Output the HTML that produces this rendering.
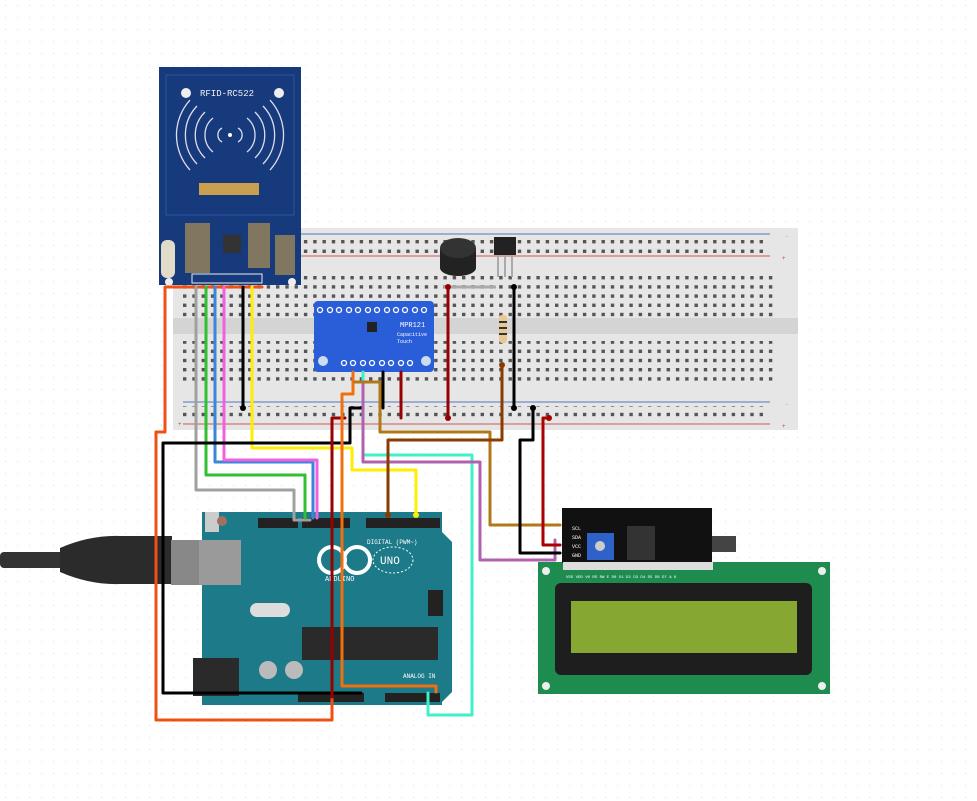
<!DOCTYPE html>
<html><head><meta charset="utf-8"><style>
html,body{margin:0;padding:0;background:#fff;}
svg{display:block;}
text{font-family:"Liberation Mono",monospace;}
</style></head><body>
<svg width="977" height="801" viewBox="0 0 977 801" xmlns="http://www.w3.org/2000/svg">
<defs>
<pattern id="grid" width="12" height="12" patternUnits="userSpaceOnUse"><rect x="5" y="5" width="1" height="1" fill="#ddd"/></pattern>
<pattern id="holes" x="183" y="0" width="9.3" height="9.2" patternUnits="userSpaceOnUse"><rect x="0" y="0" width="3.4" height="3.4" fill="#555"/></pattern>
<pattern id="rail" x="183" y="0" width="46.5" height="9.6" patternUnits="userSpaceOnUse"><rect x="9.3" y="0" width="3.4" height="3.4" fill="#555"/><rect x="18.6" y="0" width="3.4" height="3.4" fill="#555"/><rect x="27.9" y="0" width="3.4" height="3.4" fill="#555"/><rect x="37.2" y="0" width="3.4" height="3.4" fill="#555"/><rect x="0" y="0" width="3.4" height="3.4" fill="#555"/></pattern>
</defs>
<rect width="977" height="801" fill="url(#grid)"/>

<!-- Breadboard -->
<rect x="173" y="228" width="625" height="202" fill="#e6e6e6"/>
<rect x="173" y="318" width="625" height="16" fill="#d4d4d4"/>
<line x1="183" y1="234" x2="770" y2="234" stroke="#5577bb" stroke-width="1"/>
<line x1="183" y1="256" x2="770" y2="256" stroke="#cc5555" stroke-width="1"/>
<line x1="183" y1="402" x2="770" y2="402" stroke="#5577bb" stroke-width="1"/>
<line x1="183" y1="424" x2="770" y2="424" stroke="#cc5555" stroke-width="1"/>
<rect x="183" y="238" width="585" height="15" fill="url(#rail)"/>
<rect x="183" y="406" width="585" height="15" fill="url(#rail)"/>
<rect x="183" y="275" width="590" height="44" fill="url(#holes)"/>
<rect x="183" y="341" width="590" height="44" fill="url(#holes)"/>
<g font-size="6" fill="#999">
<text x="785" y="238">-</text><text x="782" y="260" fill="#c44">+</text>
<text x="785" y="406">-</text><text x="782" y="428" fill="#c44">+</text>
<text x="178" y="426" fill="#c44">+</text>
</g>

<!-- RFID -->
<rect x="159" y="67" width="142" height="218" fill="#163a7c"/>
<rect x="166" y="75" width="128" height="140" fill="none" stroke="#2c57a0" stroke-width="1"/>
<circle cx="186" cy="93" r="5" fill="#eee"/><circle cx="279" cy="93" r="5" fill="#eee"/>
<text x="200" y="96" font-size="9" fill="#eee">RFID-RC522</text>
<g fill="none" stroke="#dde" stroke-width="1.3">
<path d="M213 118 a22 22 0 0 0 0 34"/><path d="M205 112 a32 32 0 0 0 0 46"/><path d="M197 106 a42 42 0 0 0 0 58"/><path d="M190 100 a52 52 0 0 0 0 70"/>
<path d="M247 118 a22 22 0 0 1 0 34"/><path d="M255 112 a32 32 0 0 1 0 46"/><path d="M263 106 a42 42 0 0 1 0 58"/><path d="M270 100 a52 52 0 0 1 0 70"/>
<path d="M222 128 a8 8 0 0 0 0 14"/><path d="M238 128 a8 8 0 0 1 0 14"/>
</g>
<circle cx="230" cy="135" r="2" fill="#fff"/>
<rect x="199" y="183" width="60" height="12" fill="#c9a050"/>
<rect x="223" y="235" width="18" height="18" fill="#333"/>
<rect x="161" y="240" width="14" height="38" rx="6" fill="#e0dcc8"/>
<rect x="185" y="223" width="25" height="50" fill="#c9a050" opacity=".6"/>
<rect x="248" y="223" width="22" height="45" fill="#c9a050" opacity=".6"/>
<rect x="275" y="235" width="20" height="40" fill="#c9a050" opacity=".6"/>
<rect x="192" y="274" width="70" height="9" fill="none" stroke="#eee" stroke-width="1"/>
<circle cx="169" cy="282" r="4" fill="#eee"/><circle cx="292" cy="282" r="4" fill="#eee"/>

<!-- Buzzer, transistor, resistor -->
<ellipse cx="458" cy="268" rx="18" ry="8" fill="#222"/>
<rect x="440" y="248" width="36" height="20" fill="#222"/>
<ellipse cx="458" cy="248" rx="18" ry="10" fill="#333"/>
<line x1="444" y1="287" x2="496" y2="287" stroke="#aaa" stroke-width="3"/>
<path d="M494 237 h22 v18 h-22z" fill="#222"/>
<path d="M498 255 v22 M505 255 v22 M512 255 v22" stroke="#aaa" stroke-width="2"/>
<rect x="499" y="315" width="8" height="28" rx="3" fill="#e8c890"/>
<path d="M499 322h8M499 328h8M499 334h8" stroke="#333" stroke-width="2"/>

<!-- MPR121 -->
<rect x="314" y="301" width="120" height="71" rx="4" fill="#2a5ed8"/>
<g fill="none" stroke="#fff" stroke-width="1.3">
<circle cx="320" cy="310" r="2.5"/><circle cx="330" cy="310" r="2.5"/><circle cx="339" cy="310" r="2.5"/><circle cx="349" cy="310" r="2.5"/><circle cx="358" cy="310" r="2.5"/><circle cx="368" cy="310" r="2.5"/><circle cx="377" cy="310" r="2.5"/><circle cx="387" cy="310" r="2.5"/><circle cx="396" cy="310" r="2.5"/><circle cx="405" cy="310" r="2.5"/><circle cx="415" cy="310" r="2.5"/><circle cx="424" cy="310" r="2.5"/>
<circle cx="344" cy="363" r="2.5"/><circle cx="353" cy="363" r="2.5"/><circle cx="363" cy="363" r="2.5"/><circle cx="372" cy="363" r="2.5"/><circle cx="382" cy="363" r="2.5"/><circle cx="391" cy="363" r="2.5"/><circle cx="401" cy="363" r="2.5"/><circle cx="410" cy="363" r="2.5"/>
</g>
<circle cx="323" cy="361" r="5" fill="#cde"/><circle cx="426" cy="361" r="5" fill="#cde"/>
<rect x="367" y="322" width="10" height="10" fill="#222"/>
<text x="400" y="327" font-size="7" fill="#fff">MPR121</text>
<text x="397" y="336" font-size="5" fill="#fff">Capacitive</text>
<text x="397" y="343" font-size="5" fill="#fff">Touch</text>

<!-- Arduino -->
<path d="M202 512 h240 v20 l10 10 v150 l-10 10 v3 h-240z" fill="#1d7a88"/>
<rect x="258" y="518" width="40" height="10" fill="#222"/>
<rect x="302" y="518" width="48" height="10" fill="#222"/>
<rect x="366" y="518" width="74" height="10" fill="#222"/>
<rect x="205" y="512" width="14" height="20" fill="#ccc"/>
<circle cx="222" cy="521" r="5" fill="#a07060"/>
<rect x="302" y="627" width="136" height="33" fill="#2a2a2a"/>
<rect x="298" y="693" width="66" height="9" fill="#222"/>
<rect x="385" y="693" width="55" height="9" fill="#222"/>
<rect x="193" y="658" width="46" height="38" fill="#2a2a2a"/>
<circle cx="268" cy="670" r="9" fill="#bbb"/><circle cx="294" cy="670" r="9" fill="#bbb"/>
<rect x="250" y="603" width="40" height="14" rx="7" fill="#ddd"/>
<circle cx="332" cy="560" r="13" fill="none" stroke="#fff" stroke-width="4"/>
<circle cx="357" cy="560" r="13" fill="none" stroke="#fff" stroke-width="4"/>
<ellipse cx="393" cy="560" rx="20" ry="13" fill="none" stroke="#fff" stroke-width="1" stroke-dasharray="2 2"/>
<text x="380" y="564" font-size="11" fill="#fff">UNO</text>
<text x="367" y="544" font-size="6" fill="#fff">DIGITAL (PWM~)</text>
<text x="403" y="678" font-size="6" fill="#fff">ANALOG IN</text>
<text x="325" y="581" font-size="7" fill="#fff">ARDUINO</text>
<rect x="428" y="590" width="15" height="26" fill="#222"/>
<!-- USB cable -->
<rect x="0" y="552" width="70" height="16" rx="4" fill="#333"/>
<path d="M60 548 Q90 535 120 536 h52 v48 h-52 Q90 585 60 572z" fill="#2b2b2b"/>
<rect x="171" y="540" width="70" height="45" fill="#9a9a9a"/>
<rect x="171" y="540" width="28" height="45" fill="#888"/>

<!-- I2C + LCD -->
<rect x="538" y="562" width="292" height="132" fill="#1e8c4e"/>
<circle cx="546" cy="571" r="4" fill="#eee"/><circle cx="822" cy="571" r="4" fill="#eee"/>
<circle cx="546" cy="686" r="4" fill="#eee"/><circle cx="822" cy="686" r="4" fill="#eee"/>
<rect x="555" y="583" width="257" height="92" rx="6" fill="#1e1e1e"/>
<rect x="571" y="601" width="226" height="52" fill="#86a832"/>
<rect x="562" y="508" width="150" height="55" fill="#111"/>
<rect x="587" y="533" width="27" height="27" fill="#2f62c8"/>
<circle cx="600" cy="546" r="5" fill="#ccc"/>
<rect x="627" y="526" width="28" height="34" fill="#333"/>
<rect x="712" y="536" width="24" height="16" fill="#444"/>
<g fill="#ddd"><rect x="563" y="562" width="150" height="8"/></g>
<text x="566" y="578" font-size="4" fill="#fff">VSS VDD V0 RS RW E D0 D1 D2 D3 D4 D5 D6 D7 A K</text>
<g font-size="5" fill="#fff"><text x="572" y="530">SCL</text><text x="572" y="539">SDA</text><text x="572" y="548">VCC</text><text x="572" y="557">GND</text></g>

<!-- Wires -->
<g fill="none" stroke-width="3" stroke-linejoin="round" stroke-linecap="round">
<path d="M262 287 H165 V432 H156 V720 H332 V697" stroke="#f05014"/>
<path d="M196 287 V490 H294 V520 H310" stroke="#a0a0a0"/>
<path d="M206 287 V475 H305 V518" stroke="#30c030"/>
<path d="M215 287 V462 H313 V518" stroke="#3a86d8"/>
<path d="M224 287 V460 H317 V518" stroke="#f060e0"/>
<path d="M243 287 V408" stroke="#000"/>
<path d="M252 287 V448 H352 V470 H416 V515" stroke="#ffee00"/>
<path d="M362 408 H350 V443 H163 V693 H361" stroke="#000"/>
<path d="M345 418 H332 V697" stroke="#900"/>
<path d="M353 372 V394 H342 V686 H436 V692" stroke="#f07010"/>
<path d="M363 372 V455 H472 V715 H428 V693" stroke="#40f0c8"/>
<path d="M363 382 V462 H480 V560 H555 V540" stroke="#b060b0"/>
<path d="M355 382 H380 V432 H490 V525 H560" stroke="#b07818"/>
<path d="M502 365 V440 H388 V515" stroke="#8a3c00"/>
<path d="M383 372 V408" stroke="#000"/>
<path d="M401 372 V418" stroke="#900"/>
<path d="M448 287 V418" stroke="#900"/>
<path d="M514 287 V408" stroke="#000"/>
<path d="M533 408 V440 H520 V553 H560" stroke="#000"/>
<path d="M549 418 H543 V545 H560" stroke="#a00"/>
</g>
<g>
<circle cx="448" cy="287" r="3" fill="#900"/><circle cx="448" cy="418" r="3" fill="#900"/>
<circle cx="514" cy="287" r="3" fill="#000"/><circle cx="514" cy="408" r="3" fill="#000"/>
<circle cx="243" cy="408" r="3" fill="#000"/><circle cx="533" cy="408" r="3" fill="#000"/>
<circle cx="549" cy="418" r="3" fill="#a00"/><circle cx="502" cy="365" r="3" fill="#8a3c00"/>
<circle cx="416" cy="515" r="3" fill="#ffee00"/><circle cx="388" cy="515" r="3" fill="#8a3c00"/>
</g>
</svg>
</body></html>
